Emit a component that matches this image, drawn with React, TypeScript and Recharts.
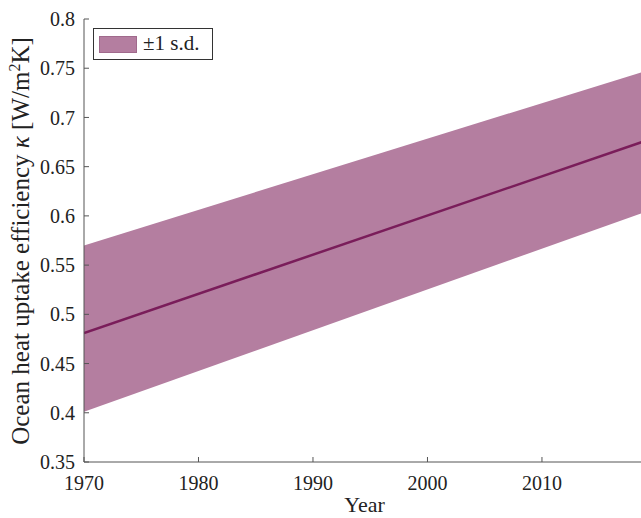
import React from "react";
import { ComposedChart, Area, Line, XAxis, YAxis } from "recharts";

const years = [1970, 2019];
const meanVals = [0.481, 0.676];
const lowerVals = [0.401, 0.604];
const upperVals = [0.570, 0.747];

const xTicks = [1970, 1980, 1990, 2000, 2010];
const yTicks = [0.35, 0.4, 0.45, 0.5, 0.55, 0.6, 0.65, 0.7, 0.75, 0.8];

const data = years.map((y, i) => ({
  year: y,
  mean: meanVals[i],
  band: [lowerVals[i], upperVals[i]],
}));

const FONT = "'Liberation Serif', 'DejaVu Serif', serif";
const AXIS = "#555555";
const BAND = "#b47ea0";
const LINE = "#7a1d5a";

const fmt = (v: number) => String(parseFloat(v.toFixed(2)));

const LegendBox = () => (
  <div
    style={{
      position: "absolute",
      left: 93,
      top: 28,
      width: 120,
      height: 32,
      border: "1px solid #333",
      background: "#fff",
      boxSizing: "border-box",
      fontFamily: FONT,
      fontSize: 21,
      color: "#222",
    }}
  >
    <div
      style={{
        position: "absolute",
        left: 5,
        top: 7,
        width: 38,
        height: 17,
        background: BAND,
        border: "1px solid #a06a8c",
        boxSizing: "border-box",
      }}
    />
    <div style={{ position: "absolute", left: 49, top: 2, whiteSpace: "nowrap" }}>±1 s.d.</div>
  </div>
);

export default function App() {
  return (
    <div
      style={{
        position: "absolute",
        left: 0,
        top: 0,
        width: 641,
        height: 518,
        overflow: "hidden",
        background: "#fff",
      }}
    >
      <ComposedChart
        width={660}
        height={518}
        data={data}
        margin={{ top: 19, right: 15, left: 0, bottom: 0 }}
      >
        <XAxis
          xAxisId="b"
          dataKey="year"
          type="number"
          domain={[1970, 2019]}
          ticks={xTicks}
          allowDataOverflow
          height={56}
          stroke={AXIS}
          tickSize={-5}
          tickMargin={19}
          tick={{ fill: "#222", fontFamily: FONT, fontSize: 20 }}
          label={{
            value: "Year",
            position: "insideBottom",
            offset: 6,
            fill: "#222",
            fontFamily: FONT,
            fontSize: 22,
          }}
        />
        <XAxis
          xAxisId="t"
          orientation="top"
          dataKey="year"
          type="number"
          domain={[1970, 2019]}
          ticks={xTicks}
          height={0}
          stroke={AXIS}
          tickSize={-5}
          tick={() => <g />}
        />
        <YAxis
          yAxisId="l"
          type="number"
          domain={[0.35, 0.8]}
          ticks={yTicks}
          width={84}
          stroke={AXIS}
          tickSize={-5}
          tickMargin={14}
          tickFormatter={fmt}
          tick={{ fill: "#222", fontFamily: FONT, fontSize: 20 }}
          label={{
            content: () => (
              <text
                x={29}
                y={241}
                transform="rotate(-90 29 241)"
                textAnchor="middle"
                fontFamily={FONT}
                fontSize={25}
                fill="#222"
              >
                Ocean heat uptake efficiency <tspan fontStyle="italic">κ</tspan> [W/m
                <tspan fontSize={16} dy={-9}>2</tspan>
                <tspan dy={9}>K]</tspan>
              </text>
            ),
          }}
        />
        <YAxis
          yAxisId="r"
          orientation="right"
          type="number"
          domain={[0.35, 0.8]}
          ticks={yTicks}
          width={0}
          stroke={AXIS}
          tickSize={-5}
          tick={() => <g />}
        />
        <Area
          xAxisId="b"
          yAxisId="l"
          dataKey="band"
          type="linear"
          stroke="none"
          fill={BAND}
          fillOpacity={1}
          isAnimationActive={false}
          legendType="none"
        />
        <Line
          xAxisId="b"
          yAxisId="l"
          dataKey="mean"
          type="linear"
          stroke={LINE}
          strokeWidth={2.5}
          dot={false}
          isAnimationActive={false}
          legendType="none"
        />
      </ComposedChart>
      <LegendBox />
    </div>
  );
}
